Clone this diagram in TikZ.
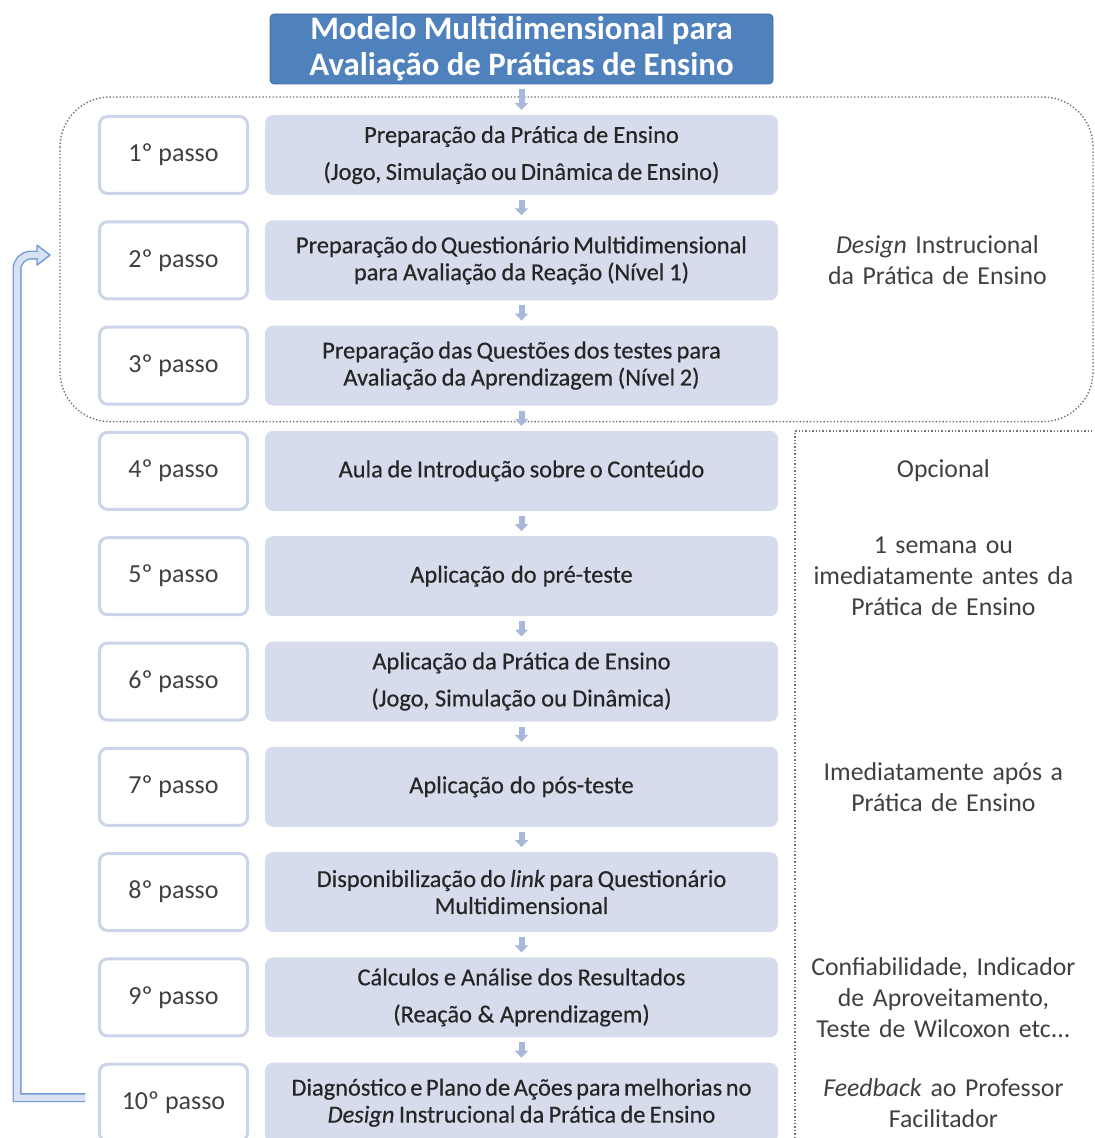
\documentclass[tikz,border=0pt]{standalone}
\usepackage{fontspec}
\setmainfont{Carlito}
\newfontfamily\taskfont[FakeBold=0.5]{Carlito}
\usetikzlibrary{positioning,arrows.meta}
\definecolor{titleblue}{RGB}{79,129,189}
\definecolor{stepline}{RGB}{203,212,232}
\definecolor{taskfill}{RGB}{214,220,236}
\definecolor{flowarrow}{RGB}{168,184,216}
\definecolor{backline}{RGB}{112,154,212}
\definecolor{backfill}{RGB}{216,226,243}
\newcommand\tightwords{\spaceskip=1.6pt plus 0.5pt minus 0.3pt\relax}

\begin{document}
\begin{tikzpicture}[node distance=12.65pt and 8pt,
  titlebox/.style={fill=titleblue,draw=titleblue!85!black,line width=0.4pt,rounded corners=2pt,
    minimum width=251.5pt,minimum height=35pt,align=center,text=white,inner sep=0pt,outer sep=0pt,
    font=\fontsize{16.4}{18}\selectfont\bfseries},
  stepbox/.style={draw=stepline,line width=1.5pt,fill=white,rounded corners=4pt,
    minimum width=74pt,minimum height=38.5pt,outer sep=0.75pt,text=black!75,
    font=\fontsize{13}{15}\selectfont},
  taskbox/.style={fill=taskfill,rounded corners=4pt,minimum width=256.5pt,minimum height=40pt,
    text width=250pt,align=center,inner sep=0pt,outer sep=0pt,text=black!85,
    font=\taskfont\fontsize{12.2}{13.5}\selectfont,execute at begin node=\tightwords},
  note/.style={text width=150pt,align=center,inner sep=0pt,text=black!75,
    font=\fontsize{12.9}{15.5}\selectfont},
  flow/.style={flowarrow,line width=3pt,shorten <=2.5pt,shorten >=2.5pt,
    -{Triangle[width=6.5pt,length=3.5pt]}},
  group/.style={black!55,line width=0.7pt,densely dotted},
  backshaft/.style={draw=backline,line width=0.7pt,double=backfill,double distance=3.1pt},
  backhead/.style={draw=backline,line width=0.7pt,fill=backfill,line join=round}]

\useasboundingbox (0,0) rectangle (547pt,-569pt);
\coordinate (edge) at (546.5pt,-569pt);

% title and the ten steps
\node[titlebox] (title) at (260.75pt,-24.5pt) {Modelo Multidimensional para\\Avaliação de Práticas de Ensino};

\node[stepbox] (s1) at (86.75pt,-77.5pt) {1º passo};
\node[stepbox] (s2) [below=of s1] {2º passo};
\node[stepbox] (s3) [below=of s2] {3º passo};
\node[stepbox] (s4) [below=of s3] {4º passo};
\node[stepbox] (s5) [below=of s4] {5º passo};
\node[stepbox] (s6) [below=of s5] {6º passo};
\node[stepbox] (s7) [below=of s6] {7º passo};
\node[stepbox] (s8) [below=of s7] {8º passo};
\node[stepbox] (s9) [below=of s8] {9º passo};
\node[stepbox] (s10) [below=of s9] {10º passo};

\node[taskbox] (c1) [right=of s1] {Preparação da Prática de Ensino\\[5pt](Jogo, Simulação ou Dinâmica de Ensino)};
\node[taskbox] (c2) [right=of s2] {Preparação do Questionário Multidimensional\\para Avaliação da Reação (Nível 1)};
\node[taskbox] (c3) [right=of s3] {Preparação das Questões dos testes para\\Avaliação da Aprendizagem (Nível 2)};
\node[taskbox] (c4) [right=of s4] {Aula de Introdução sobre o Conteúdo};
\node[taskbox] (c5) [right=of s5] {Aplicação do pré-teste};
\node[taskbox] (c6) [right=of s6] {Aplicação da Prática de Ensino\\[5pt](Jogo, Simulação ou Dinâmica)};
\node[taskbox] (c7) [right=of s7] {Aplicação do pós-teste};
\node[taskbox] (c8) [right=of s8] {Disponibilização do \textit{link} para Questionário\\Multidimensional};
\node[taskbox] (c9) [right=of s9] {Cálculos e Análise dos Resultados\\[5pt](Reação \& Aprendizagem)};
\node[taskbox] (c10) [right=of s10] {Diagnóstico e Plano de Ações para melhorias no\\\textit{Design} Instrucional da Prática de Ensino};

% notes on the right
\node[note] (n2) [right=4.5pt of c2] {\textit{Design} Instrucional\\da Prática de Ensino};
\node[note] (n4) [right=7.5pt of c4] {Opcional};
\node[note] (n5) [right=7.5pt of c5] {1 semana ou\\imediatamente antes da\\Prática de Ensino};
\node[note] (n7) [right=7.5pt of c7] {Imediatamente após a\\Prática de Ensino};
\node[note] (n9) [right=7.5pt of c9] {Confiabilidade, Indicador\\de Aproveitamento,\\Teste de Wilcoxon etc...};
\node[note] (n10) [right=7.5pt of c10] {\textit{Feedback} ao Professor\\Facilitador};

% dotted frames
\draw[group,rounded corners=25pt] ([xshift=-19pt,yshift=9pt]s1.north west) rectangle ([yshift=-8pt]c3.south -| edge);
\coordinate (optcorner) at ([xshift=8.5pt]c4.north east);
\draw[group] (optcorner |- edge) -- (optcorner) -- (c4.north east -| edge);

% flow
\draw[flow] (title) -- (c1);
\draw[flow] (c1) -- (c2);
\draw[flow] (c2) -- (c3);
\draw[flow] (c3) -- (c4);
\draw[flow] (c4) -- (c5);
\draw[flow] (c5) -- (c6);
\draw[flow] (c6) -- (c7);
\draw[flow] (c7) -- (c8);
\draw[flow] (c8) -- (c9);
\draw[flow] (c9) -- (c10);

% back to step 2
\coordinate (backstart) at ([xshift=-6.5pt,yshift=2.5pt]s10.west);
\coordinate (backend) at ([xshift=-24pt,yshift=2.6pt]s2.west);
\draw[backhead] (backend) -- ++(-6.5pt,5pt) -- ++(0,-10pt) -- cycle;
\draw[backshaft] (backstart) -- ++(-34pt,0) [rounded corners=7pt] |- ([xshift=-6pt]backend);
\end{tikzpicture}
\end{document}
